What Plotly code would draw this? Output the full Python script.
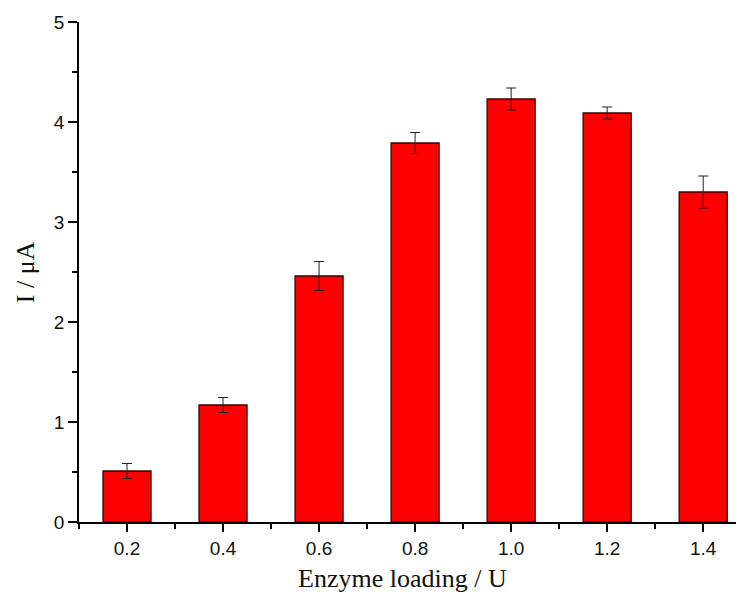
import plotly.graph_objects as go

loading = [0.2, 0.4, 0.6, 0.8, 1.0, 1.2, 1.4]
current = [0.51, 1.17, 2.46, 3.79, 4.23, 4.09, 3.30]
error = [0.075, 0.075, 0.145, 0.105, 0.11, 0.06, 0.16]

x_tick_vals = [0.2, 0.4, 0.6, 0.8, 1.0, 1.2, 1.4]
x_tick_text = ["0.2", "0.4", "0.6", "0.8", "1.0", "1.2", "1.4"]
y_tick_vals = [0, 1, 2, 3, 4, 5]

fig = go.Figure()
fig.add_trace(go.Bar(
    x=loading, y=current, width=0.1,
    marker=dict(color="#FF0000", line=dict(color="#3a0000", width=1.3)),
    error_y=dict(type="data", array=error, visible=True, color="#222222",
                 thickness=1, width=5),
))

# page body has an 8px margin, so the figure is made 8px smaller and margins shifted
fig.update_layout(
    width=736, height=597,
    margin=dict(l=71, r=0, t=14, b=83),
    plot_bgcolor="white", paper_bgcolor="white",
    showlegend=False,
    font=dict(family="Liberation Sans, Arial", size=19, color="#111111"),
)
fig.update_xaxes(
    automargin=False,
    range=[0.1, 1.485], tickvals=x_tick_vals, ticktext=x_tick_text,
    ticks="outside", ticklen=8, tickwidth=1.5, tickcolor="black",
    showline=True, linecolor="black", linewidth=1.5, showgrid=False, zeroline=False,
    minor=dict(tickvals=[0.1, 0.3, 0.5, 0.7, 0.9, 1.1, 1.3], ticks="outside",
               ticklen=5, tickwidth=1.5, tickcolor="black", showgrid=False),
)
fig.update_yaxes(
    automargin=False,
    range=[0, 5], tickvals=y_tick_vals,
    ticks="outside", ticklen=9, tickwidth=1.5, tickcolor="black",
    showline=True, linecolor="black", linewidth=1.5, showgrid=False, zeroline=False,
    minor=dict(dtick=0.5, ticks="outside", ticklen=5, tickwidth=1.5,
               tickcolor="black", showgrid=False),
)

title_font = dict(family="Liberation Serif, Times New Roman", size=26, color="#111111")
fig.add_annotation(text="Enzyme loading / U", xref="paper", yref="paper",
                   x=0.487, y=-0.112, xanchor="center", yanchor="middle",
                   showarrow=False, font=title_font)
fig.add_annotation(text="I / μA", xref="paper", yref="paper",
                   x=-0.081, y=0.5, xanchor="center", yanchor="middle",
                   textangle=-90, showarrow=False, font=title_font)

fig.write_html("out.html")
